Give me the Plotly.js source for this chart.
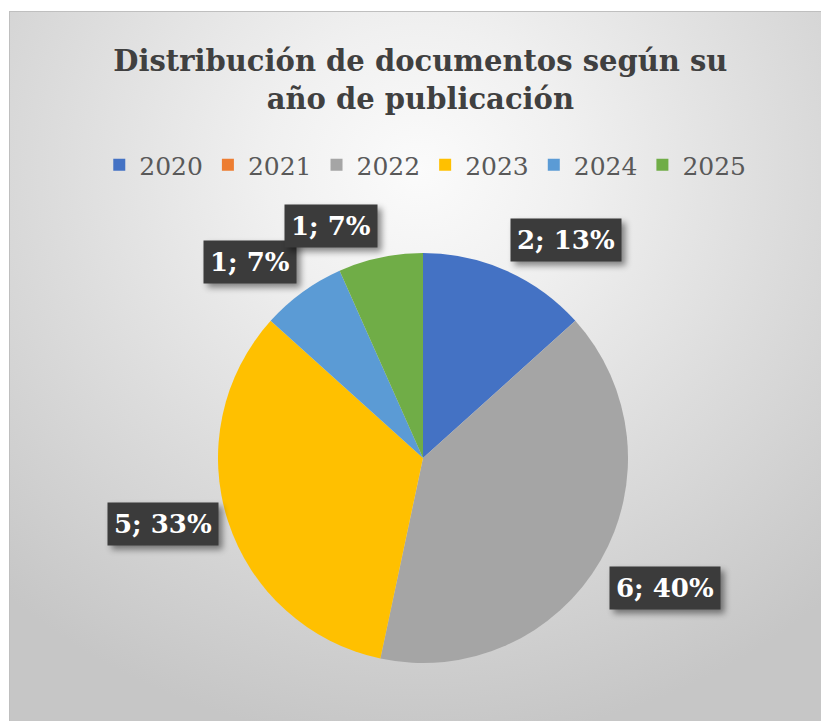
<!DOCTYPE html>
<html>
<head>
<meta charset="utf-8">
<script src="https://cdn.plot.ly/plotly-3.0.1.min.js"></script>
<style>
  html, body { margin:0; padding:0; background:#ffffff; }
  #wrap { position:relative; width:821px; height:721px; overflow:hidden; }
  #bg { position:absolute; left:9px; top:11px; width:820px; height:720px; box-sizing:border-box;
        border:1px solid #bfbfbf;
        background: radial-gradient(ellipse 75% 80% at 50% 22%, #fbfbfb 0%, #f0f0f0 25%, #dcdcdc 60%, #c6c6c6 100%); }
  #chart { position:absolute; left:0; top:0; width:821px; height:721px; }
  #chart g.annotation rect.bg { filter: drop-shadow(4px 4px 3px rgba(0,0,0,0.45)); }
</style>
</head>
<body>
<div id="wrap"><div id="bg"></div><div id="chart"></div></div>
<script>
// ---- data ----
const years = ["2020", "2021", "2022", "2023", "2024", "2025"];
const counts = [2, 0, 6, 5, 1, 1];
const colors = ["#4472C4", "#ED7D31", "#A5A5A5", "#FFC000", "#5B9BD5", "#70AD47"];
const titleText = "Distribución de documentos según su<br>año de publicación";

// ---- layout constants (pixels) ----
const W = 821, H = 721;
const cx = 423, cy = 458, R = 205;
const FONT = "DejaVu Serif";

const total = counts.reduce((a, b) => a + b, 0);
const annotations = [];
let cum = 0;
counts.forEach((v, i) => {
  const start = cum; cum += v;
  if (v <= 0) return;
  const mid = (start + v / 2) / total * 2 * Math.PI;
  const s = Math.sin(mid), c = Math.cos(mid);
  const px = cx + (R + 10) * s, py = cy - (R + 10) * c;
  const xa = s > 0.15 ? "left" : (s < -0.15 ? "right" : "center");
  const ya = c > 0.45 ? "bottom" : (c < -0.45 ? "top" : "middle");
  const pct = Math.round(v / total * 100);
  annotations.push({
    xref: "paper", yref: "paper", x: px / W, y: 1 - py / H,
    xanchor: xa, yanchor: ya, showarrow: false,
    text: "<b>" + v + "; " + pct + "%</b>",
    font: {family: FONT, size: 26, color: "#ffffff"},
    bgcolor: "#3b3b3b",
    borderpad: 6
  });
});

const trace = {
  type: "pie",
  labels: years,
  values: counts,
  marker: {colors: colors, line: {width: 0}},
  sort: false,
  direction: "clockwise",
  rotation: 0,
  textinfo: "none",
  hoverinfo: "skip",
  domain: {x: [(cx - R) / W, (cx + R) / W], y: [1 - (cy + R) / H, 1 - (cy - R) / H]}
};

const layout = {
  width: W, height: H,
  margin: {l: 0, r: 0, t: 0, b: 0},
  paper_bgcolor: "rgba(0,0,0,0)",
  plot_bgcolor: "rgba(0,0,0,0)",
  font: {family: FONT},
  title: {
    text: "<b>" + titleText + "</b>",
    font: {family: FONT, size: 29, color: "#404040"},
    x: 0.512, xanchor: "center", y: 1 - 71 / H, yanchor: "top"
  },
  showlegend: true,
  legend: {
    orientation: "h", x: 0.518, xanchor: "center", y: 1 - 165 / H, yanchor: "middle",
    font: {family: FONT, size: 25, color: "#595959"},
    traceorder: "normal", bgcolor: "rgba(0,0,0,0)"
  },
  annotations: annotations
};

Plotly.newPlot("chart", [trace], layout, {displayModeBar: false, staticPlot: true});
</script>
</body>
</html>
